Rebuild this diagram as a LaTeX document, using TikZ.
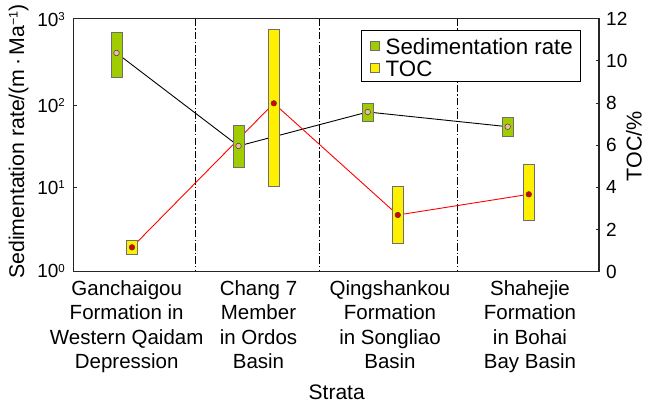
\documentclass[tikz,border=0pt]{standalone}
\usepackage{fontspec}
\setmainfont{Liberation Sans}
\definecolor{sedgreen}{RGB}{160,204,0}
\definecolor{tocyellow}{RGB}{255,240,0}
\definecolor{boxgray}{RGB}{110,110,110}
\definecolor{ptpink}{RGB}{244,180,180}
\definecolor{ptred}{RGB}{225,0,0}
\begin{document}
\begin{tikzpicture}[x=1pt,y=-1pt,
  axisline/.style={line width=1.1pt, draw=black!85},
  tickline/.style={line width=0.9pt, draw=black!85},
  divider/.style={line width=0.9pt, dash pattern=on 7.5pt off 2.2pt on 1.3pt off 2.2pt},
  sedbox/.style={fill=sedgreen, draw=boxgray, line width=0.7pt},
  tocbox/.style={fill=tocyellow, draw=boxgray, line width=0.7pt},
  sedpt/.style={circle, fill=ptpink, draw=black!75, line width=0.5pt, minimum size=5.6pt, inner sep=0pt},
  tocpt/.style={circle, fill=ptred, draw=black!75, line width=0.5pt, minimum size=5.6pt, inner sep=0pt},
  sedline/.style={black, line width=0.9pt},
  tocline/.style={red, line width=0.9pt},
  ticklab/.style={font=\fontsize{19}{19}\selectfont, inner sep=0pt},
  catlab/.style={font=\fontsize{20.5}{24.4}\selectfont, align=center, inner sep=0pt, anchor=north},
  leglab/.style={font=\fontsize{22.3}{22.3}\selectfont, inner sep=0pt, anchor=base west},
]
\useasboundingbox (0,0) rectangle (650,407);

% dividers
\coordinate (d1t) at (195.7,18.7); \coordinate (d1b) at (195.7,271.7);
\coordinate (d2t) at (319.3,18.7); \coordinate (d2b) at (319.3,271.7);
\coordinate (d3t) at (457.7,18.7); \coordinate (d3b) at (457.7,271.7);
\draw[divider] (d1t) -- (d1b);
\draw[divider] (d2t) -- (d2b);
\draw[divider] (d3t) -- (d3b);

% points (nodes)
\node[sedpt] (s1) at (116.5,53) {};
\node[sedpt] (s2) at (238.5,146) {};
\node[sedpt] (s3) at (367.7,112) {};
\node[sedpt] (s4) at (507.7,126.7) {};
\node[tocpt] (t1) at (132,247.3) {};
\node[tocpt] (t2) at (273.8,103.3) {};
\node[tocpt] (t3) at (397.8,215) {};
\node[tocpt] (t4) at (528.8,194.3) {};

% connecting lines (behind boxes)
\draw[sedline] (s1) -- (s2) -- (s3) -- (s4);
\draw[tocline] (t1) -- (t2) -- (t3) -- (t4);

% boxes
\draw[sedbox] (110.9,32.3) rectangle (122.1,77.3);
\draw[tocbox] (126.4,240) rectangle (137.6,254.3);
\draw[sedbox] (232.9,125.3) rectangle (244.1,167.3);
\draw[tocbox] (268.2,29.3) rectangle (279.4,186.7);
\draw[sedbox] (362.1,103.3) rectangle (373.3,121.7);
\draw[tocbox] (392.2,186.7) rectangle (403.4,243.3);
\draw[sedbox] (502.1,117.3) rectangle (513.3,136.7);
\draw[tocbox] (523.2,164) rectangle (534.4,220);

% redraw points on top
\node[sedpt] at (s1) {};
\node[sedpt] at (s2) {};
\node[sedpt] at (s3) {};
\node[sedpt] at (s4) {};
\node[tocpt] at (t1) {};
\node[tocpt] at (t2) {};
\node[tocpt] at (t3) {};
\node[tocpt] at (t4) {};

% axes frame
\draw[axisline] (73.3,18.7) rectangle (599,271.7);

% left ticks
\foreach \yy in {105,187} \draw[tickline] (73.3,\yy) -- ++(3.5,0);
% right ticks
\foreach \k in {1,...,5} \draw[tickline] (599,{271.7-42.17*\k}) -- ++(-3.5,0);

% left tick labels
\node[ticklab, anchor=east] (l3) at (65,19.5) {10\raisebox{5.6pt}{\fontsize{11.5}{11.5}\selectfont 3}};
\node[ticklab, anchor=east] (l2) at (65,105.5) {10\raisebox{5.6pt}{\fontsize{11.5}{11.5}\selectfont 2}};
\node[ticklab, anchor=east] (l1) at (65,187.5) {10\raisebox{5.6pt}{\fontsize{11.5}{11.5}\selectfont 1}};
\node[ticklab, anchor=east] (l0) at (65,271) {10\raisebox{5.6pt}{\fontsize{11.5}{11.5}\selectfont 0}};

% right tick labels
\foreach \k/\v in {0/0,1/2,2/4,3/6,4/8,5/10,6/12}
  \node[ticklab, anchor=west] (r\k) at (606,{271.7-42.17*\k}) {\v};

% axis titles
\node[font=\fontsize{21.3}{21.3}\selectfont, rotate=90, inner sep=0pt] (ylab) at (18.5,141.5)
  {Sedimentation rate/(m\,·\,Ma\raisebox{6.3pt}{\fontsize{12.5}{12.5}\selectfont −1})};
\node[font=\fontsize{21.5}{21.5}\selectfont, rotate=90, inner sep=0pt] (y2lab) at (634,146) {TOC/\%};
\node[font=\fontsize{21}{21}\selectfont, inner sep=0pt] (xlab) at (336.7,392.5) {Strata};

% category labels
\node[catlab] (c1) at (126.7,280.5) {Ganchaigou\\Formation in\\Western Qaidam\\Depression};
\node[catlab] (c2) at (258.5,280.5) {Chang 7\\Member\\in Ordos\\Basin};
\node[catlab] (c3) at (390,280.5) {Qingshankou\\Formation\\in Songliao\\Basin};
\node[catlab] (c4) at (530,280.5) {Shahejie\\Formation\\in Bohai\\Bay Basin};

% legend
\draw[line width=1pt, fill=white] (361.7,30) rectangle (580,81.7);
\draw[sedbox] (370.7,41.7) rectangle (379.3,50.3);
\draw[tocbox] (370.7,63.3) rectangle (379.3,71.9);
\node[leglab] (lg1) at (385.5,54) {Sedimentation rate};
\node[leglab] (lg2) at (385.5,76) {TOC};
\end{tikzpicture}
\end{document}
